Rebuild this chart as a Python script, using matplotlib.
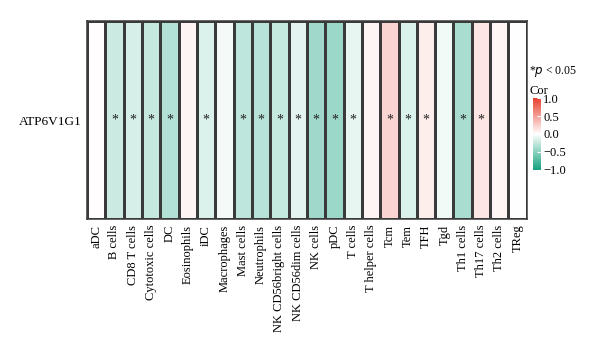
import numpy as np
import matplotlib
matplotlib.use("Agg")
import matplotlib.pyplot as plt
from matplotlib.colors import LinearSegmentedColormap

plt.rcParams['font.family'] = ['Liberation Serif', 'DejaVu Serif']

cells = ["aDC", "B cells", "CD8 T cells", "Cytotoxic cells", "DC", "Eosinophils",
         "iDC", "Macrophages", "Mast cells", "Neutrophils", "NK CD56bright cells",
         "NK CD56dim cells", "NK cells", "pDC", "T cells", "T helper cells", "Tcm",
         "Tem", "TFH", "Tgd", "Th1 cells", "Th17 cells", "Th2 cells", "TReg"]
cor = [0.01, -0.22, -0.17, -0.25, -0.32, 0.06, -0.15, -0.05, -0.27, -0.3, -0.25,
       -0.11, -0.4, -0.42, -0.1, 0.06, 0.22, -0.15, 0.09, -0.06, -0.36, 0.14,
       0.05, 0.0]
signif = [0, 1, 1, 1, 1, 0, 1, 0, 1, 1, 1, 1, 1, 1, 1, 0, 1, 1, 1, 0, 1, 1, 0, 0]
gene = "ATP6V1G1"

cmap = LinearSegmentedColormap.from_list("cor", ["#14a27f", "#ffffff", "#e8402f"])

fig = plt.figure(figsize=(6, 3.54), dpi=100)
ax = fig.add_axes([0.145, 0.381, 0.733, 0.56])
data = np.array(cor).reshape(1, -1)
mesh = ax.pcolormesh(data, cmap=cmap, vmin=-1, vmax=1, edgecolors="#3a3a3a", linewidth=0.85)
for i, s in enumerate(signif):
    if s:
        ax.text(i + 0.5, 0.5, "*", ha="center", va="center", fontsize=10, color="#222222")

ax.set_xlim(0, len(cells))
ax.set_ylim(0, 1)
ax.set_xticks(np.arange(len(cells)) + 0.5)
ax.set_xticklabels(cells, rotation=90, fontsize=9)
ax.set_yticks([0.5])
ax.set_yticklabels([gene], fontsize=9.5)
ax.tick_params(length=0, pad=4)
for sp in ax.spines.values():
    sp.set_color("#3a3a3a")
    sp.set_linewidth(1.1)

cax = fig.add_axes([0.888, 0.52, 0.013, 0.203])
cb = fig.colorbar(mesh, cax=cax, ticks=[-1, -0.5, 0, 0.5, 1])
cb.outline.set_visible(False)
cb.ax.set_yticklabels(["\u22121.0", "\u22120.5", "0.0", "0.5", "1.0"], fontsize=9)
cb.ax.tick_params(length=3, color="white", width=0.8, direction="in", pad=2)
fig.text(0.882, 0.735, "Cor", fontsize=9)
fig.text(0.882, 0.79, "*$p$ < 0.05", fontsize=8.5)

fig.savefig("out.png", dpi=100)
